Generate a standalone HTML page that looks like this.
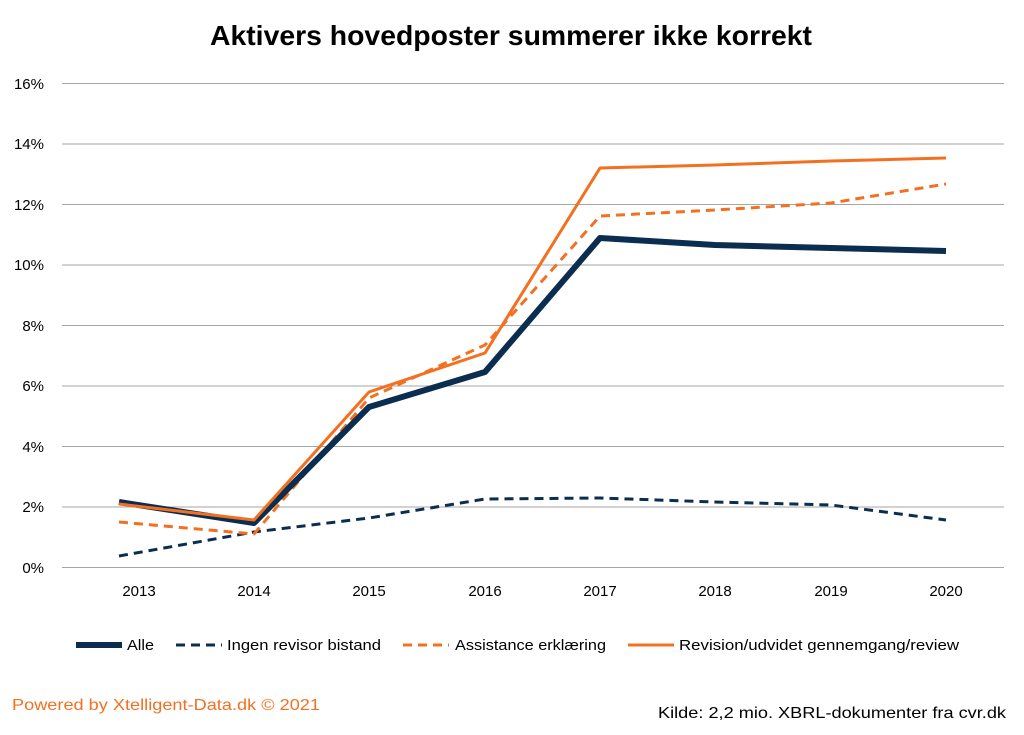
<!DOCTYPE html>
<html><head><meta charset="utf-8"><style>
body{margin:0;background:#fff;}
svg{display:block;font-family:"Liberation Sans",sans-serif;}
</style></head><body>
<svg width="1024" height="735" viewBox="0 0 1024 735">
<rect width="1024" height="735" fill="#fff"/>
<text x="210" y="45" textLength="602" lengthAdjust="spacingAndGlyphs" font-size="28" font-weight="bold" fill="#000">Aktivers hovedposter summerer ikke korrekt</text>
<g stroke="#a6a6a6" stroke-width="1">
<line x1="62" x2="1004" y1="83.5" y2="83.5"/>
<line x1="62" x2="1004" y1="144" y2="144"/>
<line x1="62" x2="1004" y1="204.5" y2="204.5"/>
<line x1="62" x2="1004" y1="265" y2="265"/>
<line x1="62" x2="1004" y1="325.5" y2="325.5"/>
<line x1="62" x2="1004" y1="386" y2="386"/>
<line x1="62" x2="1004" y1="446.5" y2="446.5"/>
<line x1="62" x2="1004" y1="507" y2="507"/>
<line x1="62" x2="1004" y1="567.5" y2="567.5"/>
</g>
<g font-size="15" fill="#000" text-anchor="end">
<text x="44" y="89">16%</text><text x="44" y="149">14%</text><text x="44" y="210">12%</text>
<text x="44" y="270">10%</text><text x="44" y="331">8%</text><text x="44" y="391">6%</text>
<text x="44" y="452">4%</text><text x="44" y="512">2%</text><text x="44" y="573">0%</text>
</g>
<g font-size="15" fill="#000" text-anchor="middle">
<text x="139" y="596">2013</text><text x="254" y="596">2014</text><text x="369" y="596">2015</text>
<text x="485" y="596">2016</text><text x="600" y="596">2017</text><text x="715" y="596">2018</text>
<text x="831" y="596">2019</text><text x="946" y="596">2020</text>
</g>
<g fill="none" stroke-linejoin="round">
<polyline stroke="#0b2d50" stroke-width="3" stroke-dasharray="9,6" points="119,556 254,532 369,518 485,499 600,498 715,502 831,505 946,520"/>
<polyline stroke="#f37021" stroke-width="3" stroke-dasharray="9,6" points="119,522 254,534 369,398 485,345 600,216 715,210 831,203 946,184"/>
<polyline stroke="#0b2d50" stroke-width="6" points="119,502 254,523 369,407 485,372 600,238 715,245 831,248 946,251"/>
<polyline stroke="#f37021" stroke-width="3" points="119,504 254,520 369,392 485,353 600,168 715,165 831,161 946,158"/>
</g>
<g font-size="15" fill="#000">
<line x1="76" x2="122" y1="645" y2="645" stroke="#0b2d50" stroke-width="6"/>
<text x="127" y="650" textLength="27" lengthAdjust="spacingAndGlyphs">Alle</text>
<line x1="176" x2="222" y1="645" y2="645" stroke="#0b2d50" stroke-width="3" stroke-dasharray="9,6"/>
<text x="227" y="650" textLength="154" lengthAdjust="spacingAndGlyphs">Ingen revisor bistand</text>
<line x1="403" x2="449" y1="645" y2="645" stroke="#f37021" stroke-width="3" stroke-dasharray="9,6"/>
<text x="455" y="650" textLength="151" lengthAdjust="spacingAndGlyphs">Assistance erklæring</text>
<line x1="628" x2="674" y1="645" y2="645" stroke="#f37021" stroke-width="3"/>
<text x="679" y="650" textLength="280" lengthAdjust="spacingAndGlyphs">Revision/udvidet gennemgang/review</text>
</g>
<text x="12" y="710" font-size="16" fill="#f37021" textLength="308" lengthAdjust="spacingAndGlyphs">Powered by Xtelligent-Data.dk © 2021</text>
<text x="658" y="718" font-size="16" fill="#000" textLength="348" lengthAdjust="spacingAndGlyphs">Kilde: 2,2 mio. XBRL-dokumenter fra cvr.dk</text>
</svg>
</body></html>
